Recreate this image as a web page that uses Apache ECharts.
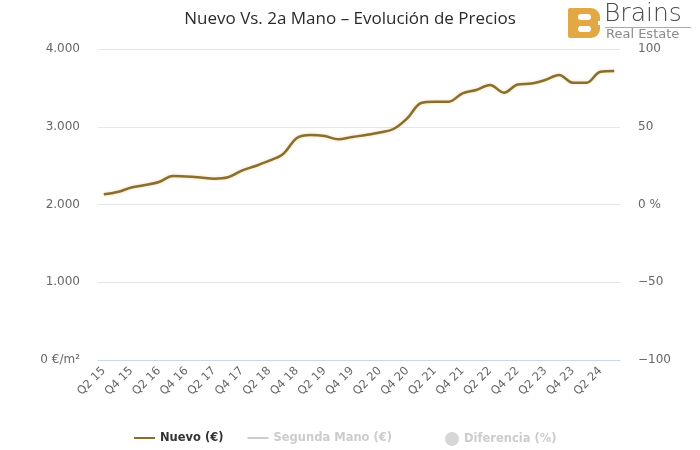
<!DOCTYPE html>
<html>
<head>
<meta charset="utf-8">
<script src="https://cdn.jsdelivr.net/npm/echarts@6/dist/echarts.min.js"></script>
<style>html,body{margin:0;padding:0;background:#fff}#c{width:700px;height:450px}</style>
</head>
<body>
<div id="c"></div>
<script>
const categories = ['Q2 15','Q3 15','Q4 15','Q1 16','Q2 16','Q3 16','Q4 16','Q1 17','Q2 17','Q3 17','Q4 17','Q1 18','Q2 18','Q3 18','Q4 18','Q1 19','Q2 19','Q3 19','Q4 19','Q1 20','Q2 20','Q3 20','Q4 20','Q1 21','Q2 21','Q3 21','Q4 21','Q1 22','Q2 22','Q3 22','Q4 22','Q1 23','Q2 23','Q3 23','Q4 23','Q1 24','Q2 24','Q3 24'];
const nuevo = [2131,2161,2219,2251,2289,2367,2360,2347,2332,2350,2435,2495,2563,2650,2855,2894,2881,2839,2868,2894,2926,2971,3109,3305,3322,3322,3430,3473,3537,3438,3543,3556,3601,3666,3567,3567,3708,3717];
const segundaMano = [];
const diferencia = [];
const leftTicks = [0,1000,2000,3000,4000];
const rightTicks = [-100,-50,0,50,100];
const labelIdx = categories.map((c,i)=>i).filter(i=>i%2===0);

const chart = echarts.init(document.getElementById('c'), null, {renderer:'canvas'});
const fontFam = 'DejaVu Sans';
const gold = '#E2A843';
const selected = {'Nuevo (€)':true,'Segunda Mano (€)':false,'Diferencia (%)':false};
const legendText = {fontFamily:fontFam, fontSize:11.5, fontWeight:'bold', color:'#333'};
chart.setOption({
  animation:false,
  title:{text:'Nuevo Vs. 2a Mano – Evolución de Precios', left:'center', top:6,
    textStyle:{fontFamily:'Open Sans', fontSize:17, fontWeight:'normal', color:'#2b2b2b'}},
  legend:[
    {top:427, left:129, itemGap:24, itemWidth:21, itemHeight:2, icon:'rect', inactiveColor:'#ccc',
      textStyle:legendText, data:['Nuevo (€)','Segunda Mano (€)'], selected:selected},
    {top:427, left:440, itemWidth:14, itemHeight:14, icon:'circle', inactiveColor:'#ccc',
      textStyle:legendText, data:['Diferencia (%)'], selected:selected}
  ],
  grid:{left:98, right:80, top:49, bottom:90},
  xAxis:{type:'value', min:-0.42, max:categories.length-1+0.42,
    axisLine:{show:true, onZero:false, lineStyle:{color:'#ccd6eb', width:1}},
    axisTick:{show:false}, splitLine:{show:false},
    axisLabel:{customValues:labelIdx, rotate:45, margin:9, color:'#666', fontFamily:fontFam, fontSize:11.5,
      formatter:v=>categories[Math.round(v)]||''}},
  yAxis:[{type:'value', min:0, max:4000, interval:1000, position:'left',
      axisLine:{show:false}, axisTick:{show:false},
      splitLine:{lineStyle:{color:'#e6e6e6'}},
      axisLabel:{margin:18, color:'#666', fontFamily:fontFam, fontSize:12,
        formatter:v=> v===0 ? '0 €/m²' : String(v).replace(/\B(?=(\d{3})+(?!\d))/g,'.')}},
    {type:'value', min:-100, max:100, interval:50, position:'right',
      axisLine:{show:false}, axisTick:{show:false}, splitLine:{show:false},
      axisLabel:{margin:18, color:'#666', fontFamily:fontFam, fontSize:12,
        formatter:v=> v===0 ? '0 %' : (v<0 ? '−'+(-v) : String(v))}}],
  series:[
    {name:'Nuevo (€)', type:'line', yAxisIndex:0, symbol:'none', smooth:0.35,
      data:nuevo.map((v,i)=>[i,v]),
      itemStyle:{color:'#8a6e30'},
      lineStyle:{color:'#8a6e30', width:2.5, shadowColor:'rgba(225,185,90,0.55)', shadowBlur:3}},
    {name:'Segunda Mano (€)', type:'line', yAxisIndex:0, symbol:'none', data:segundaMano,
      itemStyle:{color:'#7cb5ec'}, lineStyle:{color:'#7cb5ec', width:2}},
    {name:'Diferencia (%)', type:'scatter', yAxisIndex:1, symbol:'circle', data:diferencia,
      itemStyle:{color:'#90ed7d'}}
  ],
  graphic:[
    {type:'group', left:568, top:8, children:[
      {type:'rect', shape:{x:0,y:0,width:32,height:30,r:[2,9,9,2]}, style:{fill:gold}},
      {type:'rect', shape:{x:30,y:13,width:4,height:4}, style:{fill:'#fff'}},
      {type:'rect', shape:{x:10,y:6,width:13,height:6,r:3}, style:{fill:'#fff'}},
      {type:'rect', shape:{x:10,y:18,width:13,height:6,r:3}, style:{fill:'#fff'}}
    ]},
    {type:'text', left:604, top:2, style:{text:'Brains', fontFamily:'DejaVu Sans', fontSize:25, fontWeight:200, fill:'#4a4a4a'}},
    {type:'rect', shape:{x:605,y:27,width:86,height:1}, style:{fill:'#aaa'}},
    {type:'text', left:606, top:28, style:{text:'Real Estate', fontFamily:'DejaVu Sans', fontSize:13, fill:'#8a8a8a'}}
  ]
});
</script>
</body>
</html>
